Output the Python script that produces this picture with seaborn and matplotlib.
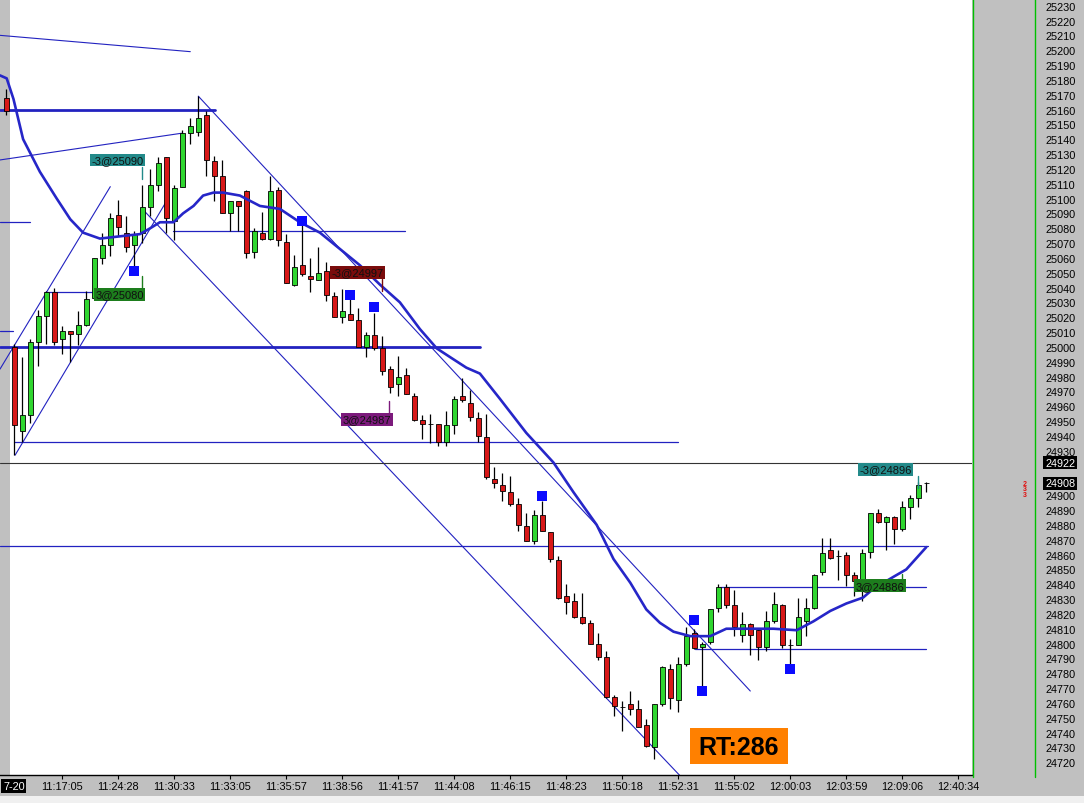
import numpy as np
import matplotlib
matplotlib.use("Agg")
import matplotlib.pyplot as plt
import matplotlib.transforms as mtransforms
from matplotlib.patches import Rectangle
from matplotlib.lines import Line2D
import seaborn as sns

sns.set_theme(style="white")
plt.rcParams['font.family'] = ['Liberation Sans', 'DejaVu Sans']

# velas de 1 barra (índice = posición en el gráfico)
opens = [25168, 25000, 24943, 24954, 25003, 25021, 25037, 25005, 25011, 25009,
         25015, 25033, 25060, 25069, 25089, 25077, 25069, 25077, 25094, 25109,
         25128, 25085, 25108, 25144, 25145, 25156, 25125, 25115, 25090, 25098,
         25105, 25064, 25077, 25073, 25106, 25071, 25042, 25055, 25048, 25045,
         25051, 25034, 25020, 25022, 25018, 25000, 25008, 24999, 24985, 24975,
         24981, 24967, 24951, 24948, 24948, 24936, 24947, 24967, 24962, 24952,
         24939, 24911, 24907, 24902, 24894, 24879, 24869, 24887, 24875, 24856,
         24832, 24829, 24818, 24814, 24800, 24791, 24764, 24757, 24759, 24756,
         24745, 24730, 24759, 24783, 24762, 24786, 24807, 24798, 24801, 24824,
         24838, 24826, 24806, 24813, 24809, 24798, 24815, 24826, 24799, 24799,
         24815, 24824, 24848, 24863, 24859, 24860, 24846, 24838, 24862, 24888,
         24882, 24885, 24877, 24892, 24898, 24908]
highs = [25174, 25002, 24993, 25005, 25025, 25038, 25040, 25014, 25011, 25024,
         25038, 25060, 25077, 25090, 25099, 25088, 25078, 25109, 25120, 25128,
         25128, 25109, 25146, 25154, 25169, 25159, 25129, 25126, 25098, 25098,
         25106, 25080, 25091, 25115, 25108, 25076, 25062, 25085, 25060, 25067,
         25057, 25037, 25039, 25032, 25026, 25010, 25023, 25007, 24987, 24994,
         24986, 24969, 24954, 24955, 24948, 24957, 24967, 24979, 24971, 24956,
         24955, 24919, 24915, 24913, 24898, 24888, 24890, 24896, 24875, 24859,
         24840, 24834, 24834, 24816, 24807, 24795, 24765, 24761, 24768, 24762,
         24749, 24759, 24785, 24786, 24791, 24811, 24810, 24801, 24823, 24840,
         24840, 24836, 24821, 24814, 24810, 24822, 24835, 24827, 24803, 24831,
         24831, 24847, 24871, 24871, 24863, 24862, 24848, 24864, 24888, 24891,
         24886, 24886, 24896, 24900, 24909, 24909]
lows = [25156, 24927, 24936, 24949, 24987, 25002, 25001, 24995, 24990, 25001,
        25014, 25032, 25056, 25061, 25075, 25064, 25054, 25070, 25088, 25105,
        25077, 25072, 25108, 25137, 25142, 25115, 25098, 25090, 25078, 25078,
        25060, 25060, 25072, 25072, 25068, 25043, 25041, 25048, 25037, 25045,
        25031, 25020, 25016, 25018, 25000, 24993, 24998, 24981, 24969, 24967,
        24968, 24950, 24938, 24935, 24933, 24933, 24941, 24963, 24950, 24936,
        24911, 24905, 24896, 24893, 24876, 24869, 24867, 24876, 24855, 24830,
        24820, 24817, 24813, 24800, 24789, 24763, 24751, 24741, 24752, 24744,
        24730, 24722, 24758, 24756, 24754, 24785, 24796, 24765, 24800, 24821,
        24824, 24805, 24801, 24792, 24789, 24795, 24814, 24797, 24786, 24799,
        24805, 24823, 24846, 24857, 24843, 24839, 24832, 24829, 24858, 24881,
        24863, 24867, 24876, 24884, 24892, 24902]
closes = [25159, 24947, 24954, 25003, 25021, 25037, 25003, 25011, 25009, 25015,
          25032, 25060, 25069, 25087, 25081, 25067, 25076, 25094, 25109, 25124,
          25087, 25107, 25144, 25149, 25154, 25126, 25115, 25090, 25098, 25095,
          25063, 25078, 25073, 25105, 25072, 25043, 25054, 25049, 25046, 25050,
          25035, 25020, 25024, 25018, 25000, 25008, 24999, 24984, 24973, 24980,
          24968, 24951, 24948, 24948, 24936, 24947, 24965, 24964, 24953, 24940,
          24912, 24908, 24903, 24894, 24880, 24869, 24887, 24876, 24857, 24831,
          24828, 24818, 24814, 24800, 24791, 24764, 24758, 24757, 24756, 24744,
          24731, 24759, 24784, 24763, 24786, 24805, 24797, 24800, 24823, 24838,
          24826, 24811, 24813, 24806, 24798, 24815, 24827, 24799, 24799, 24818,
          24824, 24846, 24861, 24858, 24859, 24846, 24842, 24861, 24888, 24882,
          24885, 24877, 24892, 24898, 24907, 24908]

# media móvil (posición de vela, precio)
ma_x = [-0.79, 0.05, 0.9, 2.1, 4.2, 6.3, 8.0, 9.6, 11.7, 15.0, 16.7, 18.0, 19.2,
        20.9, 22.1, 23.4, 24.6, 25.9, 27.1, 29.2, 31.7, 34.2, 36.7, 39.2, 41.7,
        44.2, 46.7, 49.2, 51.7, 53.8, 55.5, 57.5, 59.2, 61.7, 65.0, 68.4, 70.9,
        73.8, 75.9, 78.0, 80.0, 81.7, 83.4, 85.5, 88.0, 90.0, 93.0, 95.9, 98.8,
        100.9, 103.0, 105.0, 107.1, 108.4, 110.9, 112.5, 115.0]
ma_val = [25183, 25181, 25167, 25140, 25118, 25100, 25086, 25077, 25073, 25075,
          25076, 25080, 25084, 25084, 25090, 25095, 25102, 25104, 25104, 25102,
          25095, 25093, 25084, 25077, 25066, 25055, 25042, 25030, 25012, 24999,
          24993, 24986, 24982, 24965, 24942, 24922, 24902, 24880, 24857, 24841,
          24823, 24814, 24808, 24805, 24805, 24810, 24810, 24810, 24809, 24815,
          24822, 24827, 24831, 24837, 24845, 24850, 24865]

# eje de tiempo
tick_pos = list(range(7, 120, 7))
tick_labels = ["11:17:05", "11:24:28", "11:30:33", "11:33:05", "11:35:57",
               "11:38:56", "11:41:57", "11:44:08", "11:46:15", "11:48:23",
               "11:50:18", "11:52:31", "11:55:02", "12:00:03", "12:03:59",
               "12:09:06", "12:40:34"]
price_ticks = list(range(24720, 25231, 10))

# niveles horizontales
hl_price = [25160, 25000, 24936, 25037, 25078, 25084, 25011, 24866, 24838, 24796]
hl_x0 = [-0.79, -0.79, 1.0, 4.8, 20.8, -0.79, -0.79, -0.79, 89.2, 86.1]
hl_x1 = [26.1, 59.2, 84.0, 17.1, 49.8, 2.96, 0.84, 115.2, 115.0, 115.0]
hl_thick = [True, True, False, False, False, False, False, False, False, False]

# líneas de tendencia
diag_x0 = [-0.79, -0.79, -0.79, 1.1, 24.0, 17.0]
diag_p0 = [25210, 25126, 24985, 24927, 25169, 25093]
diag_x1 = [23.0, 21.9, 13.0, 20.0, 93.0, 84.2]
diag_p1 = [25199, 25144, 25108, 25098, 24768, 24711]

# señales (cuadros azules)
sq_x = [16, 37, 43, 46, 67, 86, 87, 98]
sq_p = [25051, 25085, 25035, 25027, 24899.5, 24816, 24768, 24783]

# etiquetas de operaciones
tr_text = ["-3@25090", "3@25080", "-3@24997", "3@24987", "-3@24896", "3@24886"]
tr_x = [10.5, 11.0, 40.5, 41.9, 106.5, 106.0]
tr_p = [25126, 25035.5, 25050.3, 24951.2, 24917.5, 24839]
tr_color = ["#238a8a", "#1d7d1d", "#7a0c0c", "#7c1a7c", "#238a8a", "#1d7d1d"]
tr_link_x = [17.0, 17.0, 46.9, 47.8, 113.9, 111.9]
tr_link_p0 = [25121.5, 25039, 25045.8, 24955.4, 24913.2, 24839]
tr_link_p1 = [25113, 25048, 25038, 24963.5, 24904.7, 24846.6]

last_high = 24922
last_price = 24908

x_min, x_max = -0.7875, 120.7125
y_min, y_max = 24711.4, 25234.5

fig = plt.figure(figsize=(10.84, 8.04), dpi=100, facecolor="#c0c0c0")
fig.add_artist(Rectangle((0, 0), 1, 7 / 804, transform=fig.transFigure,
                         facecolor="#f0f0f0", edgecolor="none"))
ax = fig.add_axes([0, 28 / 804, 972 / 1084, 776 / 804])
ax.set_facecolor("white")
ax.axvspan(x_min, 0.46, color="#c0c0c0", lw=0, zorder=0)

blue = "#2222c0"
for p, a, b, thick in zip(hl_price, hl_x0, hl_x1, hl_thick):
    ax.plot([a, b], [p, p], color=blue, lw=2.0 if thick else 0.9, zorder=1)
for a, pa, b, pb in zip(diag_x0, diag_p0, diag_x1, diag_p1):
    ax.plot([a, b], [pa, pb], color=blue, lw=0.8, zorder=1)
ax.axhline(last_high, color="#333333", lw=0.8, zorder=1)

# velas
o = np.array(opens, float)
c = np.array(closes, float)
x = np.arange(len(o))
col = np.where(c >= o, "#2fd62f", "#d81818")
h = np.where(np.abs(c - o) < 0.3, 0.05, c - o)
ax.vlines(x, lows, highs, color="black", lw=0.9, zorder=3)
ax.bar(x, h, bottom=o, width=0.62, color=col, edgecolor="black",
       linewidth=0.6, zorder=3)

sns.lineplot(x=ma_x, y=ma_val, ax=ax, color="#2626c8", linewidth=1.9,
             zorder=4, estimator=None, sort=False)
sns.scatterplot(x=sq_x, y=sq_p, ax=ax, marker="s", s=48, color="#0c0cff",
                linewidth=0, zorder=5)

for t, tx, tp, cc, lx, l0, l1 in zip(tr_text, tr_x, tr_p, tr_color,
                                     tr_link_x, tr_link_p0, tr_link_p1):
    ax.plot([lx, lx], [l0, l1], color=cc, lw=1, zorder=5)
    ax.text(tx + 0.15, tp, t, fontsize=8, color="#101010", ha="left",
            va="center", zorder=6,
            bbox=dict(boxstyle="square,pad=0.12", fc=cc, ec="none"))

ax.add_patch(Rectangle((85.46, 24718.8), 12.22, 24.1, facecolor="#ff8000",
                       edgecolor="none", zorder=6))
ax.text(91.57, 24730.6, "RT:286", fontsize=18, fontweight="bold",
        color="black", ha="center", va="center", zorder=7)

ax.set_xlim(x_min, x_max)
ax.set_ylim(y_min, y_max)
ax.set_xlabel("")
ax.set_ylabel("")
ax.set_xticks(tick_pos, tick_labels)
ax.tick_params(axis="x", length=3, width=0.8, color="black", pad=1.5,
               labelsize=7.8, labelcolor="black", direction="out", bottom=True)
ax.yaxis.tick_right()
ax.set_yticks(price_ticks,
              ["" if v in (24910, 24920) else str(v) for v in price_ticks])
ax.tick_params(axis="y", length=0, pad=53, labelsize=7.8, labelcolor="black")
for s in ["top", "left", "right"]:
    ax.spines[s].set_visible(False)
ax.spines["bottom"].set_color("black")
ax.spines["bottom"].set_linewidth(1)
ax.grid(False)

# panel derecho
for gx in (973, 1035):
    fig.add_artist(Line2D([gx / 1084, gx / 1084], [26 / 804, 1],
                          transform=fig.transFigure, color="#00c000", lw=1))
tr = mtransforms.blended_transform_factory(fig.transFigure, ax.transData)
for v in (last_high, last_price):
    ax.text(1045 / 1084, v, str(v), transform=tr, fontsize=7.8, color="white",
            ha="left", va="center", clip_on=False, zorder=8,
            bbox=dict(boxstyle="square,pad=0.15", fc="black", ec="none"))
fig.text(1025 / 1084, (804 - 490) / 804, "2\n3\n3", color="#e01010",
         fontsize=5, fontweight="bold", ha="center", va="center",
         linespacing=0.75)
fig.text(3 / 1084, (804 - 787) / 804, "7-20", color="white", fontsize=7.8,
         ha="left", va="center",
         bbox=dict(boxstyle="square,pad=0.15", fc="black", ec="none"))

fig.savefig("out.png", dpi=100, facecolor=fig.get_facecolor())
